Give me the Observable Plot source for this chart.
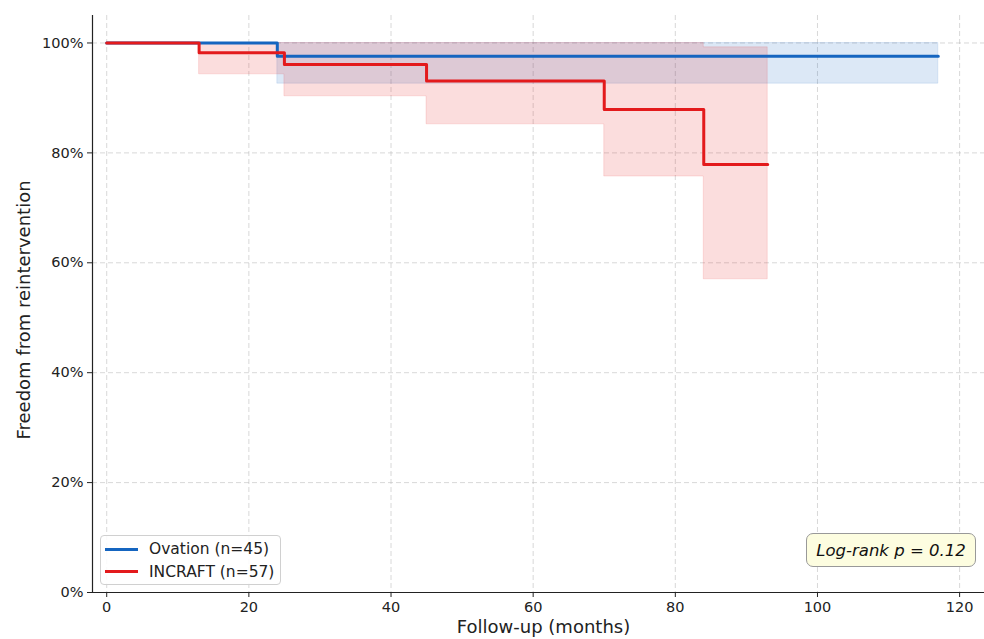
<!DOCTYPE html>
<html>
<head>
<meta charset="utf-8">
<script src="https://cdn.jsdelivr.net/npm/d3@7"></script>
<script src="https://cdn.jsdelivr.net/npm/@observablehq/plot@0.6"></script>
<style>
  body { margin: 0; background: #fff; }
  #wrap { position: relative; width: 984px; height: 639px; font-family: "DejaVu Sans", sans-serif; }
  .legend { position: absolute; left: 100px; top: 535px; width: 181px; height: 50px; border: 1px solid #d0d0d0; border-radius: 4px; background: rgba(255,255,255,0.85); box-sizing: border-box; }
  .legend .row { position: absolute; left: 0; height: 20px; display: flex; align-items: center; font-size: 15.5px; color: #222; white-space: nowrap; }
  .legend .sw { display: inline-block; width: 33px; height: 3px; margin-left: 4px; margin-right: 11px; }
  .note { position: absolute; left: 806px; top: 533px; width: 170px; height: 34px; background: #fdfde0; border: 1px solid #999; border-radius: 7px; box-sizing: border-box; display: flex; align-items: center; justify-content: center; font-style: italic; font-size: 16.5px; color: #111; white-space: nowrap; }
</style>
</head>
<body>
<div id="wrap"></div>
<script>
// Series names
const seriesNames = ["Ovation (n=45)", "INCRAFT (n=57)"];
const seriesColors = ["#1565c0", "#e31a1c"];

// Ovation: Kaplan-Meier steps (months, survival, CI lower, CI upper)
const ovTimes = [0, 24, 117];
const ovSurv  = [1.0, 0.976, 0.976];
const ovLower = [1.0, 0.926, 0.926];
const ovUpper = [1.0, 1.0, 1.0];

// INCRAFT: Kaplan-Meier steps
const inTimes = [0, 13, 25, 45, 70, 84, 93];
const inSurv  = [1.0, 0.982, 0.961, 0.931, 0.879, 0.779, 0.779];
const inLower = [1.0, 0.943, 0.903, 0.852, 0.757, 0.570, 0.570];
const inUpper = [1.0, 1.0, 1.0, 1.0, 1.0, 0.992, 0.992];

// Axis ticks
const xTicks = [0, 20, 40, 60, 80, 100, 120];
const yTicks = [0, 0.2, 0.4, 0.6, 0.8, 1.0];

const pValueText = "Log-rank p = 0.12";
const xLabel = "Follow-up (months)";
const yLabel = "Freedom from reintervention";

const ov = ovTimes.map((t, i) => ({t, s: ovSurv[i], lo: ovLower[i], hi: ovUpper[i]}));
const inc = inTimes.map((t, i) => ({t, s: inSurv[i], lo: inLower[i], hi: inUpper[i]}));

const chart = Plot.plot({
  width: 984,
  height: 639,
  marginLeft: 92,
  marginRight: 0,
  marginTop: 15,
  marginBottom: 47,
  style: { fontFamily: "DejaVu Sans, sans-serif", fontSize: "14.5px", color: "#222", background: "white" },
  x: { domain: [-2, 123.5] },
  y: { domain: [0, 1.05] },
  marks: [
    Plot.gridX(xTicks, { stroke: "#b8b8b8", strokeOpacity: 0.55, strokeDasharray: "5,3" }),
    Plot.gridY(yTicks, { stroke: "#b8b8b8", strokeOpacity: 0.55, strokeDasharray: "5,3" }),
    Plot.areaY(ov, { x: "t", y1: "lo", y2: "hi", curve: "step-after", fill: seriesColors[0], fillOpacity: 0.15, stroke: seriesColors[0], strokeOpacity: 0.12 }),
    Plot.areaY(inc, { x: "t", y1: "lo", y2: "hi", curve: "step-after", fill: seriesColors[1], fillOpacity: 0.15, stroke: seriesColors[1], strokeOpacity: 0.12 }),
    Plot.line(ov, { x: "t", y: "s", curve: "step-after", stroke: seriesColors[0], strokeWidth: 3 }),
    Plot.line(inc, { x: "t", y: "s", curve: "step-after", stroke: seriesColors[1], strokeWidth: 3 }),
    Plot.ruleX([-2], { stroke: "#222", strokeWidth: 1.2 }),
    Plot.ruleY([0], { stroke: "#222", strokeWidth: 1.2 }),
    Plot.axisX(xTicks, { tickSize: 5, tickPadding: 4, label: null, tickFormat: d => String(d), stroke: "#222" }),
    Plot.axisY(yTicks, { tickSize: 5, tickPadding: 4, label: null, tickFormat: d => Math.round(d * 100) + "%", stroke: "#222" }),
    Plot.text([xLabel], { frameAnchor: "bottom", textAnchor: "middle", dx: 5, dy: 40, fontSize: 18, fill: "#222" }),
    Plot.text([yLabel], { frameAnchor: "left", textAnchor: "middle", dx: -68, dy: 6, rotate: -90, fontSize: 18, fill: "#222" })
  ]
});

const wrap = document.getElementById("wrap");
wrap.appendChild(chart);

// Legend
const legend = document.createElement("div");
legend.className = "legend";
seriesNames.forEach((name, i) => {
  const row = document.createElement("div");
  row.className = "row";
  row.style.top = (3 + i * 22.5) + "px";
  const sw = document.createElement("span");
  sw.className = "sw";
  sw.style.background = seriesColors[i];
  const label = document.createElement("span");
  label.textContent = name;
  row.appendChild(sw);
  row.appendChild(label);
  legend.appendChild(row);
});
wrap.appendChild(legend);

// Annotation
const note = document.createElement("div");
note.className = "note";
note.textContent = pValueText;
wrap.appendChild(note);
</script>
</body>
</html>
